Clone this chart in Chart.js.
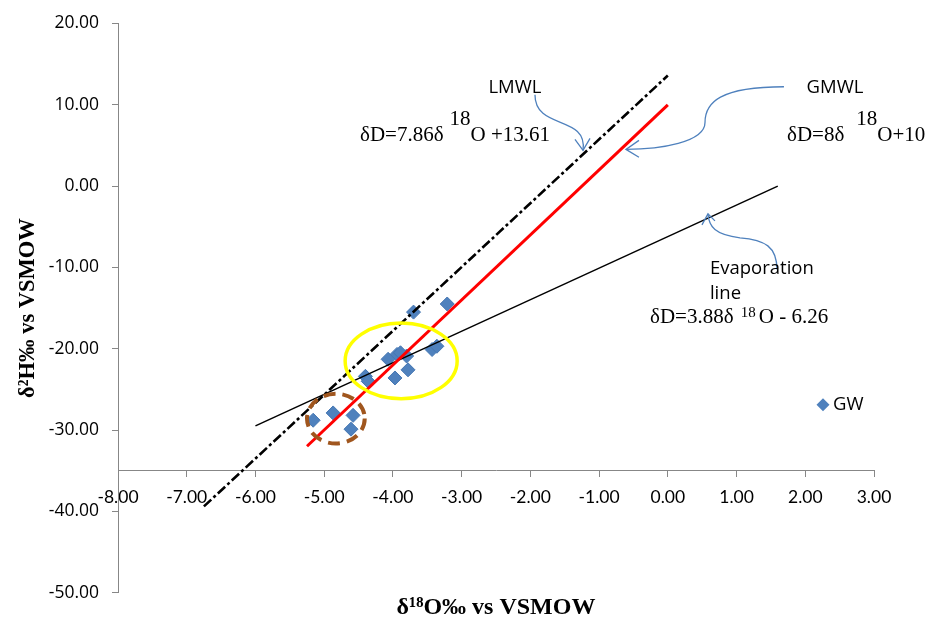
<!DOCTYPE html>
<html>
<head>
<meta charset="utf-8">
<script src="https://cdn.jsdelivr.net/npm/chart.js@4.4.0/dist/chart.umd.min.js"></script>
<style>
html, body { margin: 0; padding: 0; background: #fff; }
#wrap { width: 933px; height: 622px; }
</style>
</head>
<body>
<div id="wrap"><canvas id="myChart"></canvas></div>
<script>
// water samples (d18O, d2H)
var sampleX = [-3.21, -3.70, -3.94, -4.07, -3.80, -3.89, -3.43, -3.36, -3.78, -3.97, -4.40, -4.36, -5.16, -4.87, -4.58, -4.61];
var sampleY = [-14.5, -15.5, -20.7, -21.3, -20.9, -20.5, -20.1, -19.7, -22.6, -23.6, -23.4, -24.0, -28.8, -27.9, -28.2, -29.9];

// line end points
var lmwlX = [-6.75, 0.0];
var lmwlY = [-39.4, 13.6];
var gmwlX = [-5.25, 0.0];
var gmwlY = [-32.0, 10.0];
var evapX = [-6.0, 1.6];
var evapY = [-29.5, 0.0];

var xTicks = [-8, -7, -6, -5, -4, -3, -2, -1, 0, 1, 2, 3];
var yTicks = [-50, -40, -30, -20, -10, 0, 10, 20];

function pts(xs, ys) {
  return xs.map(function (v, i) { return { x: v, y: ys[i] }; });
}

var serif = "'Liberation Serif', 'Times New Roman', serif";
var sans = "'Open Sans', 'Liberation Sans', sans-serif";

// annotations: ellipses, arrows and labels (drawn in data units)
var notes = {
  id: 'notes',
  afterDatasetsDraw: function (chart) {
    var ctx = chart.ctx, xs = chart.scales.x, ys = chart.scales.y;
    function px(v) { return xs.getPixelForValue(v); }
    function py(v) { return ys.getPixelForValue(v); }

    function ell(cx, cy, rx, ry, color, width, dash) {
      ctx.save();
      ctx.beginPath();
      ctx.ellipse(px(cx), py(cy), Math.abs(px(cx + rx) - px(cx)), Math.abs(py(cy + ry) - py(cy)), 0, 0, Math.PI * 2);
      ctx.strokeStyle = color;
      ctx.lineWidth = width;
      ctx.setLineDash(dash || []);
      ctx.stroke();
      ctx.restore();
    }

    // path = [start, [c1, c2, end], ...], head = [tip, wing1, wing2]
    function arrow(path, head) {
      ctx.save();
      ctx.strokeStyle = '#4F81BD';
      ctx.lineWidth = 1.3;
      ctx.beginPath();
      ctx.moveTo(px(path[0][0]), py(path[0][1]));
      for (var i = 1; i < path.length; i++) {
        var s = path[i];
        ctx.bezierCurveTo(px(s[0][0]), py(s[0][1]), px(s[1][0]), py(s[1][1]), px(s[2][0]), py(s[2][1]));
      }
      ctx.stroke();
      ctx.beginPath();
      ctx.moveTo(px(head[1][0]), py(head[1][1]));
      ctx.lineTo(px(head[0][0]), py(head[0][1]));
      ctx.lineTo(px(head[2][0]), py(head[2][1]));
      ctx.stroke();
      ctx.restore();
    }

    function txt(s, x, y, font, align) {
      ctx.save();
      ctx.font = font;
      ctx.fillStyle = '#000';
      ctx.textAlign = align || 'left';
      ctx.textBaseline = 'middle';
      ctx.fillText(s, px(x), py(y));
      ctx.restore();
    }

    // parts: [text, font, raise px, gap px before]
    function eq(parts, x, y) {
      ctx.save();
      ctx.fillStyle = '#000';
      ctx.textAlign = 'left';
      ctx.textBaseline = 'alphabetic';
      var cx = px(x), cy = py(y);
      parts.forEach(function (p) {
        ctx.font = p[1];
        cx += p[3] || 0;
        ctx.fillText(p[0], cx, cy - p[2]);
        cx += ctx.measureText(p[0]).width;
      });
      ctx.restore();
    }

    ell(-3.88, -21.5, 0.815, 4.65, '#FFFF00', 3.5);
    ell(-4.83, -28.6, 0.42, 3.06, '#A0561E', 4, [12, 7]);

    arrow([[-1.933, 11.25], [[-1.933, 6.85], [-1.162, 8.80], [-1.234, 4.40]]],
          [[-1.234, 4.40], [-1.351, 5.75], [-1.132, 5.87]]);
    arrow([[1.690, 12.22], [[0.759, 12.22], [0.541, 10.27], [0.541, 7.82]], [[0.541, 5.38], [-0.114, 4.52], [-0.609, 4.52]]],
          [[-0.609, 4.52], [-0.420, 5.62], [-0.420, 3.55]]);
    arrow([[1.588, -10.27], [[1.588, -7.46], [1.414, -6.60], [1.050, -6.36]], [[0.686, -5.99], [0.599, -5.01], [0.584, -3.42]]],
          [[0.584, -3.42], [0.497, -4.77], [0.686, -4.28]]);

    var fl = '18.5px ' + sans;
    var f21 = '21px ' + serif;
    txt('LMWL', -2.224, 12.1, fl, 'center');
    txt('GMWL', 2.432, 12.1, fl, 'center');
    txt('Evaporation', 0.613, -10.15, fl);
    txt('line', 0.613, -13.2, fl);
    eq([['δD=7.86δ', f21, 0, 0], ['18', f21, 16, 6], ['O +13.61', f21, 0, 0]], -4.479, 5.5);
    eq([['δD=8δ', f21, 0, 0], ['18', f21, 16, 12], ['O+10', f21, 0, 0]], 1.734, 5.5);
    eq([['δD=3.88δ ', f21, 0, 0], ['18', '15px ' + serif, 6, 2], ['O - 6.26', f21, 0, 3]], -0.259, -16.87);

    // legend entry
    var lx = px(2.258), ly = py(-26.9);
    ctx.save();
    ctx.fillStyle = '#4F81BD';
    ctx.beginPath();
    ctx.moveTo(lx, ly - 6.5);
    ctx.lineTo(lx + 6.5, ly);
    ctx.lineTo(lx, ly + 6.5);
    ctx.lineTo(lx - 6.5, ly);
    ctx.closePath();
    ctx.fill();
    ctx.restore();
    ctx.save();
    ctx.font = fl;
    ctx.fillStyle = '#000';
    ctx.textBaseline = 'middle';
    ctx.fillText('GW', lx + 10, ly);
    ctx.restore();
  }
};

var ctx = document.getElementById('myChart');
var myChart = new Chart(ctx, {
  type: 'scatter',
  data: {
    datasets: [
      {
        label: 'LMWL',
        data: pts(lmwlX, lmwlY),
        showLine: true,
        borderColor: '#000',
        borderWidth: 2.6,
        borderDash: [10, 3, 3, 3],
        pointRadius: 0,
        fill: false
      },
      {
        label: 'GMWL',
        data: pts(gmwlX, gmwlY),
        showLine: true,
        borderColor: '#FF0000',
        borderWidth: 3,
        pointRadius: 0,
        fill: false
      },
      {
        label: 'Evaporation',
        data: pts(evapX, evapY),
        showLine: true,
        borderColor: '#000',
        borderWidth: 1.5,
        pointRadius: 0,
        fill: false
      },
      {
        label: 'GW',
        data: pts(sampleX, sampleY),
        pointStyle: 'rectRot',
        pointRadius: 7,
        backgroundColor: '#4F81BD',
        borderColor: '#4576B2',
        borderWidth: 1
      }
    ]
  },
  options: {
    responsive: true,
    maintainAspectRatio: false,
    animation: false,
    layout: { padding: { top: 20, right: 59, left: 0, bottom: 0 } },
    plugins: {
      legend: { display: false },
      tooltip: { enabled: false },
      title: {
        display: true,
        position: 'bottom',
        fullSize: false,
        text: 'δ¹⁸O‰ vs VSMOW',
        color: '#000',
        font: { family: serif, size: 24, weight: 'bold', lineHeight: 1.2 },
        padding: { top: 0.6, bottom: 0 }
      }
    },
    scales: {
      x: {
        type: 'linear',
        position: { y: -35 },
        min: -8,
        max: 3,
        afterBuildTicks: function (s) { s.ticks = xTicks.map(function (v) { return { value: v }; }); },
        ticks: {
          color: '#000',
          padding: 10,
          font: { family: "Lato, 'Open Sans', sans-serif", size: 17.5 },
          callback: function (v) { return Number(v).toFixed(2); }
        },
        grid: { drawOnChartArea: false, drawTicks: true, tickLength: 6, color: '#878787' },
        border: { display: true, color: '#878787', width: 1 }
      },
      y: {
        type: 'linear',
        position: 'left',
        min: -50,
        max: 20,
        afterBuildTicks: function (s) { s.ticks = yTicks.map(function (v) { return { value: v }; }); },
        afterFit: function (s) { s.width = 118; },
        ticks: {
          color: '#000',
          padding: 13,
          font: { family: sans, size: 17.5 },
          callback: function (v) { return Number(v).toFixed(2); }
        },
        grid: { drawOnChartArea: false, drawTicks: true, tickLength: 6, color: '#878787' },
        border: { display: true, color: '#878787', width: 1 },
        title: {
          display: true,
          text: 'δ²H‰ vs VSMOW',
          color: '#000',
          font: { family: serif, size: 22.5, weight: 'bold', lineHeight: 1.2 },
          padding: { top: 14.5, bottom: 0 }
        }
      }
    }
  },
  plugins: [notes]
});
</script>
</body>
</html>
